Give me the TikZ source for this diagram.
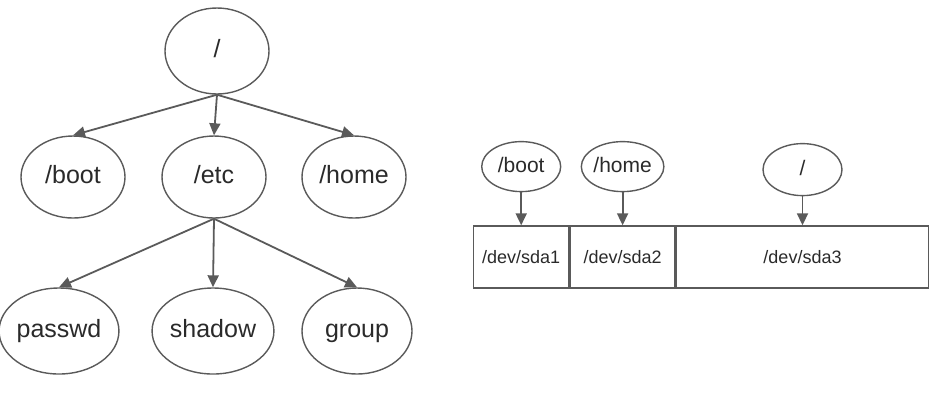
\documentclass[tikz,border=0pt]{standalone}
\usepackage{fontspec}
\setmainfont{Liberation Sans}
\usetikzlibrary{arrows.meta, shapes.geometric, positioning}

\definecolor{linegray}{HTML}{5A5A5A}
\definecolor{textgray}{HTML}{2A2A2A}

\begin{document}
\begin{tikzpicture}[x=0.5pt, y=-0.5pt, >={Triangle[length=6pt,width=5.5pt]},
    bigdir/.style={ellipse, draw=linegray, line width=0.7pt, inner sep=0pt,
      minimum width=52pt, minimum height=41pt, text=textgray,
      text height=1.6ex, text depth=0.45ex,
      font=\fontsize{12.5}{15}\selectfont},
    leafdir/.style={bigdir, minimum width=55pt, minimum height=43pt},
    smalldir/.style={bigdir, minimum width=39.5pt, minimum height=25pt,
      font=\fontsize{10.5}{12}\selectfont},
    part/.style={rectangle, draw=linegray, line width=0.7pt, inner sep=0pt,
      minimum height=31pt, text=textgray, font=\fontsize{9}{11}\selectfont},
    link/.style={->, draw=linegray, line width=0.9pt}]

    \useasboundingbox (0,0) rectangle (931,404);

    % directory tree
    \node[bigdir, minimum height=43pt] (root) at (217,51) {/};

    \node[bigdir] (boot) at (73,177)  {/boot};
    \node[bigdir] (etc)  at (214,177) {/etc};
    \node[bigdir] (home) at (354,177) {/home};

    \node[leafdir] (passwd) at (59,331)  {passwd};
    \node[leafdir] (shadow) at (213,331) {shadow};
    \node[leafdir] (group)  at (357,331) {group};

    \foreach \c in {boot,etc,home}{
      \draw[link] (root.south) -- (\c.north);
    }
    \foreach \c in {passwd,shadow,group}{
      \draw[link] (etc.south) -- (\c.north);
    }

    % partitions
    \node[part, minimum width=47.5pt, anchor=west] (sda1) at (473,257) {/dev/sda1};
    \node[part, minimum width=52.5pt, right=0pt of sda1] (sda2) {/dev/sda2};
    \node[part, minimum width=126pt, right=0pt of sda2] (sda3) {/dev/sda3};

    \node[smalldir, above=16.5pt of sda1] (mboot) {/boot};
    \node[smalldir, above=16.5pt of sda2] (mhome) {/home};
    \node[smalldir, minimum height=26pt, above=14.5pt of sda3] (mroot) {/};

    \foreach \m/\p in {mboot/sda1, mhome/sda2, mroot/sda3}{
      \draw[link] (\m.south) -- (\p.north);
    }
\end{tikzpicture}
\end{document}
